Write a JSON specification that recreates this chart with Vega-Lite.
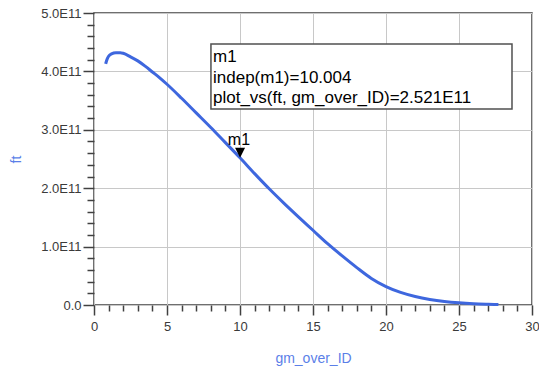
{
  "$schema": "https://vega.github.io/schema/vega-lite/v6.json",
  "width": 438,
  "height": 292,
  "autosize": {"type": "none"},
  "padding": {"left": 94, "top": 13, "right": 7, "bottom": 67},
  "background": "white",
  "config": {
    "view": {"stroke": "#404040", "strokeWidth": 1.5},
    "font": "Liberation Sans"
  },
  "datasets": {
    "curve": [
      {"gm_over_ID": 0.8, "ft": 4.13e11},
      {"gm_over_ID": 0.9, "ft": 4.21e11},
      {"gm_over_ID": 1.0, "ft": 4.26e11},
      {"gm_over_ID": 1.2, "ft": 4.30e11},
      {"gm_over_ID": 1.5, "ft": 4.32e11},
      {"gm_over_ID": 1.8, "ft": 4.32e11},
      {"gm_over_ID": 2.0, "ft": 4.31e11},
      {"gm_over_ID": 2.5, "ft": 4.25e11},
      {"gm_over_ID": 3.0, "ft": 4.18e11},
      {"gm_over_ID": 3.5, "ft": 4.09e11},
      {"gm_over_ID": 4.0, "ft": 3.99e11},
      {"gm_over_ID": 4.5, "ft": 3.89e11},
      {"gm_over_ID": 5, "ft": 3.78e11},
      {"gm_over_ID": 6, "ft": 3.54e11},
      {"gm_over_ID": 7, "ft": 3.29e11},
      {"gm_over_ID": 8, "ft": 3.04e11},
      {"gm_over_ID": 9, "ft": 2.78e11},
      {"gm_over_ID": 10, "ft": 2.52e11},
      {"gm_over_ID": 11, "ft": 2.25e11},
      {"gm_over_ID": 12, "ft": 1.99e11},
      {"gm_over_ID": 13, "ft": 1.745e11},
      {"gm_over_ID": 14, "ft": 1.51e11},
      {"gm_over_ID": 15, "ft": 1.28e11},
      {"gm_over_ID": 16, "ft": 1.05e11},
      {"gm_over_ID": 17, "ft": 0.84e11},
      {"gm_over_ID": 18, "ft": 0.64e11},
      {"gm_over_ID": 19, "ft": 0.455e11},
      {"gm_over_ID": 20, "ft": 0.315e11},
      {"gm_over_ID": 21, "ft": 0.215e11},
      {"gm_over_ID": 22, "ft": 0.145e11},
      {"gm_over_ID": 23, "ft": 0.095e11},
      {"gm_over_ID": 24, "ft": 0.06e11},
      {"gm_over_ID": 25, "ft": 0.037e11},
      {"gm_over_ID": 26, "ft": 0.022e11},
      {"gm_over_ID": 27, "ft": 0.013e11},
      {"gm_over_ID": 27.7, "ft": 0.008e11}
    ],
    "marker": [
      {"gm_over_ID": 10.004, "ft": 2.521e11, "name": "m1", "label_x": 9.93, "label_y": 2.74e11}
    ],
    "box": [
      {"x1": 8.01, "x2": 28.63, "y1": 4.469e11, "y2": 3.356e11}
    ],
    "boxtext": [
      {"x": 8.15, "y": 4.167e11, "text": "m1"},
      {"x": 8.15, "y": 3.797e11, "text": "indep(m1)=10.004"},
      {"x": 8.15, "y": 3.455e11, "text": "plot_vs(ft, gm_over_ID)=2.521E11"}
    ]
  },
  "layer": [
    {
      "data": {"name": "curve"},
      "mark": {"type": "line", "color": "#3e67de", "strokeWidth": 3, "interpolate": "monotone"},
      "encoding": {
        "x": {
          "field": "gm_over_ID", "type": "quantitative",
          "scale": {"domain": [0, 30], "nice": false, "zero": false},
          "axis": {
            "title": "gm_over_ID",
            "values": [0,1,2,3,4,5,6,7,8,9,10,11,12,13,14,15,16,17,18,19,20,21,22,23,24,25,26,27,28,29,30],
            "tickCount": 100,
            "labelExpr": "datum.value % 5 == 0 ? format(datum.value, 'd') : ''",
            "grid": true,
            "gridColor": "#c8c8c8",
            "gridWidth": 1,
            "gridOpacity": {"condition": {"test": "datum.value % 5 == 0", "value": 1}, "value": 0},
            "domain": false,
            "tickColor": "#404040",
            "tickWidth": 1.5,
            "tickSize": {"condition": {"test": "datum.value % 5 == 0", "value": 10}, "value": 6},
            "labelPadding": 5,
            "labelFontSize": 13,
            "labelColor": "#3a3a3a",
            "labelFont": "Liberation Sans",
            "labelFlush": false,
            "labelOverlap": false,
            "titleFont": "Liberation Sans",
            "titleFontSize": 14,
            "titleFontWeight": "normal",
            "titleColor": "#5b7fe8",
            "titlePadding": 18
          }
        },
        "y": {
          "field": "ft", "type": "quantitative",
          "scale": {"domain": [0, 5e11], "nice": false, "zero": false},
          "axis": {
            "title": "ft",
            "values": [0,2e10,4e10,6e10,8e10,1e11,1.2e11,1.4e11,1.6e11,1.8e11,2e11,2.2e11,2.4e11,2.6e11,2.8e11,3e11,3.2e11,3.4e11,3.6e11,3.8e11,4e11,4.2e11,4.4e11,4.6e11,4.8e11,5e11],
            "tickCount": 100,
            "labelExpr": "datum.value == 0 ? '0.0' : (datum.value % 1e11 == 0 ? format(datum.value / 1e11, '.1f') + 'E11' : '')",
            "grid": true,
            "gridColor": "#c8c8c8",
            "gridWidth": 1,
            "gridOpacity": {"condition": {"test": "datum.value % 1e11 == 0", "value": 1}, "value": 0},
            "domain": false,
            "tickColor": "#404040",
            "tickWidth": 1.5,
            "tickSize": {"condition": {"test": "datum.value % 1e11 == 0", "value": 11}, "value": 7},
            "labelPadding": 2,
            "labelFontSize": 13,
            "labelColor": "#3a3a3a",
            "labelFont": "Liberation Sans",
            "labelFlush": false,
            "labelOverlap": false,
            "titleFont": "Liberation Sans",
            "titleFontSize": 14,
            "titleFontWeight": "normal",
            "titleColor": "#5b7fe8",
            "titlePadding": 17
          }
        }
      }
    },
    {
      "data": {"name": "box"},
      "mark": {"type": "rect", "fill": "white", "stroke": "#505050", "strokeWidth": 1.5},
      "encoding": {
        "x": {"field": "x1", "type": "quantitative"},
        "x2": {"field": "x2"},
        "y": {"field": "y1", "type": "quantitative"},
        "y2": {"field": "y2"}
      }
    },
    {
      "data": {"name": "boxtext"},
      "mark": {"type": "text", "align": "left", "baseline": "alphabetic", "fontSize": 17, "font": "Liberation Sans", "color": "black"},
      "encoding": {
        "x": {"field": "x", "type": "quantitative"},
        "y": {"field": "y", "type": "quantitative"},
        "text": {"field": "text"}
      }
    },
    {
      "data": {"name": "marker"},
      "mark": {"type": "point", "shape": "M-1,-2L1,-2L0,0Z", "filled": true, "color": "black", "size": 100, "opacity": 1},
      "encoding": {
        "x": {"field": "gm_over_ID", "type": "quantitative"},
        "y": {"field": "ft", "type": "quantitative"}
      }
    },
    {
      "data": {"name": "marker"},
      "mark": {"type": "text", "align": "center", "baseline": "alphabetic", "fontSize": 16, "font": "Liberation Sans", "color": "black"},
      "encoding": {
        "x": {"field": "label_x", "type": "quantitative"},
        "y": {"field": "label_y", "type": "quantitative"},
        "text": {"field": "name"}
      }
    }
  ]
}
